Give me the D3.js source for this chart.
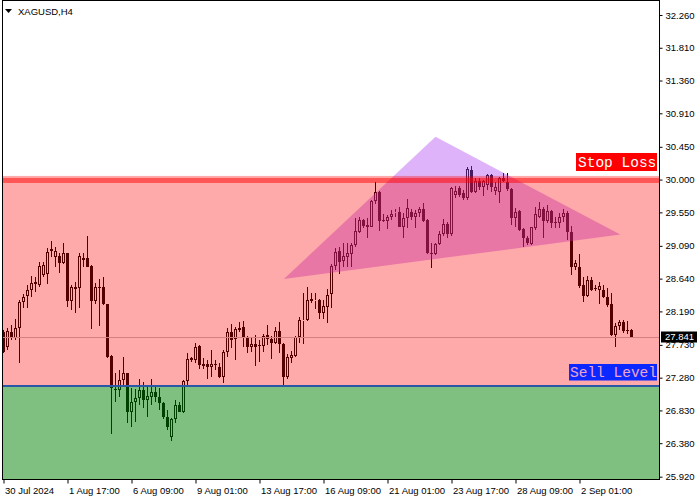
<!DOCTYPE html>
<html><head><meta charset="utf-8">
<script src="https://cdn.jsdelivr.net/npm/d3@7/dist/d3.min.js"></script>
<style>html,body{margin:0;padding:0;background:#fff;}svg{display:block;}</style>
</head><body>
<svg id="chart" width="700" height="500"></svg>
<script>
const symbol = "XAGUSD,H4";
const opens = [27.911,27.696,27.911,27.820,27.957,28.323,28.401,28.483,28.566,28.552,28.689,28.699,29.042,28.941,28.950,28.850,28.987,28.337,28.520,28.515,28.895,28.918,28.813,28.337,28.529,28.520,28.287,27.577,27.128,27.110,27.247,27.339,26.813,26.950,26.996,27.110,26.973,27.018,27.083,27.018,26.936,26.735,26.469,26.707,26.904,26.813,27.238,27.522,27.522,27.714,27.467,27.467,27.421,27.467,27.421,27.293,27.637,27.911,27.806,27.934,27.971,27.834,27.696,27.742,27.728,27.714,27.866,27.806,27.760,27.925,27.742,27.293,27.545,27.577,27.834,28.062,28.072,28.337,28.337,28.346,28.170,28.254,28.429,28.813,29.024,28.886,28.941,28.978,29.102,29.284,29.445,29.376,29.353,29.702,29.831,29.445,29.436,29.482,29.537,29.560,29.353,29.468,29.560,29.491,29.537,29.592,29.445,28.988,28.978,29.115,29.249,29.386,29.253,29.788,29.880,29.812,29.742,30.132,29.834,29.980,29.902,29.926,30.063,29.847,29.834,30.018,29.971,29.867,29.468,29.573,29.317,29.194,29.115,29.331,29.491,29.592,29.436,29.569,29.422,29.408,29.482,29.537,29.285,28.804,28.804,28.552,28.401,28.621,28.507,28.484,28.484,28.392,28.292,27.866,27.989,28.040,27.934,27.934];
const highs = [27.934,27.957,28.003,28.081,28.346,28.424,28.552,28.676,28.667,28.873,28.873,29.056,29.156,29.079,28.996,29.134,28.996,28.552,28.598,28.987,28.987,29.225,28.827,28.575,28.630,28.667,28.291,27.591,27.339,27.385,27.568,27.348,27.133,27.119,27.257,27.225,27.156,27.257,27.156,27.142,26.950,26.835,26.721,26.973,26.950,27.247,27.614,27.568,27.760,27.728,27.545,27.522,27.660,27.522,27.476,27.660,27.966,28.012,27.980,28.049,28.058,27.852,27.820,27.866,27.797,27.879,28.003,27.852,27.980,28.039,27.751,27.605,27.650,27.852,28.117,28.438,28.529,28.438,28.438,28.360,28.346,28.498,28.841,29.056,29.078,29.129,29.129,29.133,29.472,29.482,29.459,29.468,29.720,29.971,29.840,29.523,29.514,29.582,29.592,29.620,29.537,29.729,29.592,29.582,29.620,29.683,29.455,29.125,29.125,29.298,29.455,29.422,29.902,29.912,29.912,29.857,30.173,30.186,30.022,30.022,29.994,30.077,30.077,29.971,30.040,30.086,30.095,29.880,29.606,29.582,29.331,29.225,29.353,29.628,29.697,29.628,29.651,29.582,29.491,29.537,29.592,29.573,29.363,28.896,28.978,28.667,28.676,28.667,28.552,28.598,28.552,28.507,28.447,28.026,28.072,28.072,28.058,27.944];
const lows = [27.614,27.659,27.797,27.797,27.485,28.232,28.232,28.392,28.461,28.529,28.667,28.561,28.941,28.804,28.721,28.836,28.245,28.209,28.172,28.241,28.804,28.795,27.943,28.291,27.994,28.277,27.554,26.501,26.950,27.018,27.179,26.652,26.597,26.675,26.904,26.858,26.744,26.904,26.950,26.835,26.716,26.561,26.414,26.652,26.803,26.799,27.165,27.490,27.485,27.394,27.394,27.257,27.293,27.385,27.271,27.211,27.568,27.682,27.522,27.911,27.705,27.623,27.637,27.444,27.499,27.637,27.728,27.536,27.742,27.623,27.165,27.257,27.476,27.559,27.751,27.742,28.062,28.300,28.220,28.080,28.085,28.035,28.237,28.758,28.703,28.804,28.804,28.804,29.078,29.262,29.335,29.194,29.345,29.665,29.298,29.422,29.317,29.445,29.482,29.345,29.194,29.331,29.445,29.331,29.491,29.422,28.978,28.782,28.964,29.102,29.225,29.194,29.225,29.747,29.761,29.720,29.720,29.816,29.816,29.857,29.775,29.857,29.829,29.788,29.683,29.971,29.847,29.376,29.353,29.298,29.070,29.102,29.102,29.308,29.468,29.194,29.400,29.331,29.331,29.331,29.422,29.170,28.690,28.758,28.507,28.324,28.392,28.466,28.466,28.292,28.370,28.255,27.852,27.705,27.934,27.889,27.880,27.829];
const closes = [27.636,27.920,27.820,27.957,28.323,28.392,28.483,28.575,28.589,28.813,28.827,29.010,29.024,29.024,28.859,28.987,28.337,28.520,28.502,28.950,28.928,28.804,28.337,28.529,28.515,28.287,27.568,27.142,27.110,27.247,27.339,26.813,26.950,26.996,27.110,26.973,27.032,27.083,27.009,26.927,26.735,26.606,26.707,26.904,26.813,27.238,27.531,27.545,27.705,27.453,27.440,27.421,27.467,27.449,27.284,27.637,27.911,27.797,27.943,27.957,27.834,27.696,27.742,27.705,27.714,27.852,27.815,27.760,27.925,27.742,27.293,27.559,27.591,27.834,28.072,28.072,28.346,28.360,28.350,28.170,28.264,28.415,28.813,29.010,28.872,28.951,28.996,29.102,29.294,29.445,29.363,29.353,29.710,29.831,29.436,29.431,29.482,29.527,29.560,29.353,29.468,29.606,29.491,29.537,29.592,29.436,28.988,28.974,29.115,29.249,29.386,29.249,29.880,29.847,29.788,29.742,30.141,29.834,29.980,29.902,29.980,30.063,29.894,29.902,30.018,29.985,29.867,29.468,29.560,29.308,29.194,29.133,29.345,29.527,29.592,29.436,29.573,29.408,29.400,29.491,29.537,29.285,28.804,28.850,28.539,28.401,28.621,28.484,28.493,28.539,28.384,28.278,27.866,27.989,28.049,27.925,27.925,27.841];
const xTickIndex = [0,16,32,48,64,80,96,112,128,144];
const xTickLabels = ["30 Jul 2024","1 Aug 17:00","6 Aug 09:00","9 Aug 01:00","13 Aug 17:00","16 Aug 09:00","21 Aug 01:00","23 Aug 17:00","28 Aug 09:00","2 Sep 01:00"];
const yTickValues = [32.26,31.81,31.36,30.91,30.45,30.00,29.55,29.09,28.64,28.19,27.73,27.28,26.83,26.38,25.92];
const stopLoss = 29.995;
const redZoneTop = 30.05;
const sellLevel = 27.165;
const currentPrice = 27.841;
// triangle vertices: [bar index, price]
const triIndex = [70.1, 108, 154.2];
const triPrice = [28.635, 30.588, 29.245];

(function () {
const svg = d3.select("#chart");
const W = 700, H = 500;
const pL = 2.5, pR = 659.5, pT = 0.5, pB = 479.5;
const n = opens.length;
const x = d3.scalePoint().domain(d3.range(n)).range([3.5, 631.5]);
const xLin = d3.scaleLinear().domain([0, n - 1]).range([3.5, 631.5]);
const y = d3.scaleLinear().domain([25.92, 32.26]).range([476.7, 15]);

svg.append("rect").attr("width", W).attr("height", H).attr("fill", "#fff");
svg.append("defs").append("clipPath").attr("id", "plot")
  .append("rect").attr("x", 3).attr("y", 1).attr("width", 656).attr("height", 478);
const g = svg.append("g").attr("clip-path", "url(#plot)");

// candles
const data = d3.range(n).map(i => ({i, o: opens[i], h: highs[i], l: lows[i], c: closes[i]}));
const cg = g.append("g");
data.forEach(d => {
  const cx = x(d.i);
  const yt = Math.round(y(Math.max(d.o, d.c)));
  const yb = Math.round(y(Math.min(d.o, d.c)));
  const yh = Math.round(y(d.h));
  const yl = Math.round(y(d.l));
  const bull = d.c > d.o;
  if (bull) {
    cg.append("line").attr("x1", cx).attr("x2", cx).attr("y1", yh).attr("y2", yt).attr("stroke", "#000");
    cg.append("line").attr("x1", cx).attr("x2", cx).attr("y1", yb).attr("y2", yl).attr("stroke", "#000");
    cg.append("rect").attr("x", cx - 1).attr("y", yt + 0.5).attr("width", 2)
      .attr("height", Math.max(0, yb - yt - 1)).attr("fill", "none").attr("stroke", "#000");
  } else {
    cg.append("line").attr("x1", cx).attr("x2", cx).attr("y1", yh).attr("y2", yl).attr("stroke", "#000");
    cg.append("rect").attr("x", cx - 1.5).attr("y", yt).attr("width", 3)
      .attr("height", Math.max(1, yb - yt)).attr("fill", "#000");
  }
});

// current price line
const yCur = Math.round(y(currentPrice)) + 0.5;
g.append("line").attr("x1", 3).attr("x2", 659).attr("y1", yCur).attr("y2", yCur)
  .attr("stroke", "#c0c0c0").attr("stroke-width", 1);

// triangle
const triPts = triIndex.map((t, k) => [xLin(t), y(triPrice[k])]);
g.append("polygon").attr("points", triPts.map(p => p.join(",")).join(" "))
  .attr("fill", "rgb(176,64,240)").attr("fill-opacity", 0.4);

// zones
g.append("rect").attr("x", 3).attr("width", 656)
  .attr("y", y(redZoneTop)).attr("height", y(sellLevel) - y(redZoneTop))
  .attr("fill", "rgb(255,0,0)").attr("fill-opacity", 0.333);
g.append("rect").attr("x", 3).attr("width", 656)
  .attr("y", y(sellLevel)).attr("height", pB - y(sellLevel))
  .attr("fill", "rgb(0,128,0)").attr("fill-opacity", 0.5);
g.append("rect").attr("x", 3).attr("width", 656)
  .attr("y", y(stopLoss) - 2).attr("height", 5)
  .attr("fill", "rgb(255,0,0)").attr("fill-opacity", 0.5);
g.append("line").attr("x1", 3).attr("x2", 659).attr("y1", y(sellLevel)).attr("y2", y(sellLevel))
  .attr("stroke", "#2b58a6").attr("stroke-width", 2);

// labels
const mono = "'Liberation Mono','Courier New',monospace";
svg.append("rect").attr("x", 576).attr("y", 153).attr("width", 81).attr("height", 18).attr("fill", "#ff0000");
svg.append("text").attr("x", 578).attr("y", 166.5).attr("font-family", mono).attr("font-size", 14.5)
  .attr("fill", "#ffffff").text("Stop Loss");
svg.append("rect").attr("x", 569).attr("y", 364).attr("width", 88).attr("height", 16.5).attr("fill", "#0a28ff");
svg.append("text").attr("x", 570).attr("y", 376.5).attr("font-family", mono).attr("font-size", 14.5)
  .attr("fill", "#f0a4cc").text("Sell Level");

// frame
svg.append("rect").attr("x", pL).attr("y", pT).attr("width", pR - pL).attr("height", pB - pT)
  .attr("fill", "none").attr("stroke", "#000").attr("stroke-width", 1);

const font = "'Liberation Sans',Arial,sans-serif";
// right axis
const yAxis = d3.axisRight(y).tickValues(yTickValues).tickFormat(d3.format(".3f")).tickSize(3).tickPadding(3);
const ya = svg.append("g").attr("transform", `translate(${pR},0)`).call(yAxis);
ya.select(".domain").remove();
ya.selectAll("text").attr("font-family", font).attr("font-size", 9.5).attr("fill", "#000");
ya.selectAll("line").attr("stroke", "#000");

// bottom axis
const xAxis = d3.axisBottom(x).tickValues(xTickIndex).tickFormat((d, i) => xTickLabels[i]).tickSize(4).tickPadding(4);
const xa = svg.append("g").attr("transform", `translate(0,${pB})`).call(xAxis);
xa.select(".domain").remove();
xa.selectAll("text").attr("font-family", font).attr("font-size", 9.5).attr("fill", "#000")
  .attr("text-anchor", "start").attr("dx", 1);
xa.selectAll("line").attr("stroke", "#000");

// current price label
svg.append("rect").attr("x", 661).attr("y", y(currentPrice) - 5.3).attr("width", 36).attr("height", 11).attr("fill", "#000");
svg.append("text").attr("x", 665).attr("y", y(currentPrice)).attr("dy", "0.35em")
  .attr("font-family", font).attr("font-size", 9.5).attr("fill", "#fff").text(d3.format(".3f")(currentPrice));

// title
svg.append("path").attr("d", "M5,9 L12,9 L8.5,13 Z").attr("fill", "#000");
svg.append("text").attr("x", 18).attr("y", 15).attr("font-family", font).attr("font-size", 9.5)
  .attr("fill", "#000").text(symbol);
})();
</script>
</body></html>
